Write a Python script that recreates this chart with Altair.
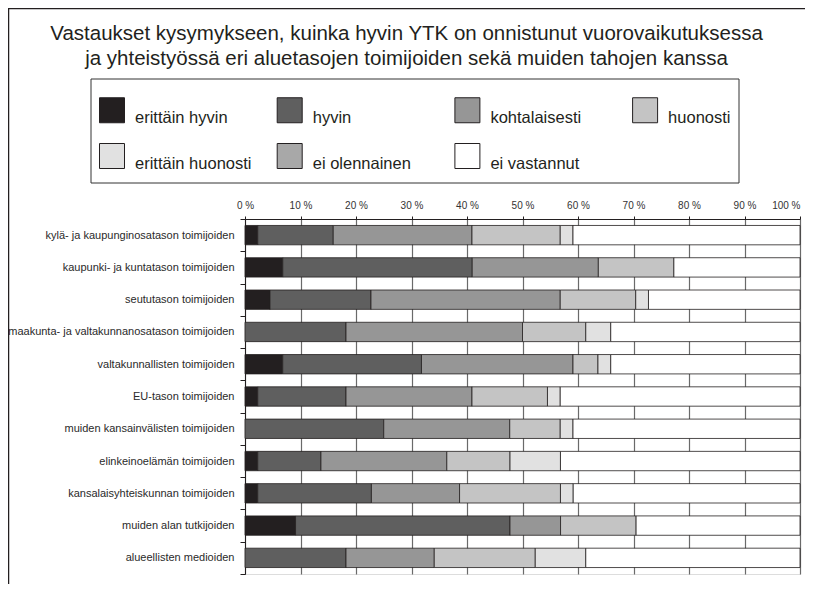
import altair as alt
import pandas as pd

title_lines = [
    "Vastaukset kysymykseen, kuinka hyvin YTK on onnistunut vuorovaikutuksessa",
    "ja yhteistyössä eri aluetasojen toimijoiden sekä muiden tahojen kanssa",
]

categories = [
    "kylä- ja kaupunginosatason toimijoiden",
    "kaupunki- ja kuntatason toimijoiden",
    "seututason toimijoiden",
    "maakunta- ja valtakunnanosatason toimijoiden",
    "valtakunnallisten toimijoiden",
    "EU-tason toimijoiden",
    "muiden kansainvälisten toimijoiden",
    "elinkeinoelämän toimijoiden",
    "kansalaisyhteiskunnan toimijoiden",
    "muiden alan tutkijoiden",
    "alueellisten medioiden",
]

series = [
    "erittäin hyvin",
    "hyvin",
    "kohtalaisesti",
    "huonosti",
    "erittäin huonosti",
    "ei olennainen",
    "ei vastannut",
]

# percentages per category, in the order of `series`
erittain_hyvin = [2.3, 6.8, 4.5, 0.0, 6.8, 2.3, 0.0, 2.3, 2.3, 9.1, 0.0]
hyvin = [13.6, 34.1, 18.2, 18.2, 25.0, 15.9, 25.0, 11.4, 20.5, 38.6, 18.2]
kohtalaisesti = [25.0, 22.7, 34.1, 31.8, 27.3, 22.7, 22.7, 22.7, 15.9, 9.1, 15.9]
huonosti = [15.9, 13.6, 13.6, 11.4, 4.5, 13.6, 9.1, 11.4, 18.2, 13.6, 18.2]
erittain_huonosti = [2.3, 0.0, 2.3, 4.5, 2.3, 2.3, 2.3, 9.1, 2.3, 0.0, 9.1]
ei_olennainen = [0.0] * 11
ei_vastannut = [40.9, 22.7, 27.3, 34.1, 34.1, 43.2, 40.9, 43.2, 40.9, 29.5, 38.6]

values = [erittain_hyvin, hyvin, kohtalaisesti, huonosti,
          erittain_huonosti, ei_olennainen, ei_vastannut]

colors = ["#231f20", "#5f5f5f", "#969696", "#c4c4c4", "#e1e1e1", "#a8a8a8", "#ffffff"]

x_ticks = [0, 0.1, 0.2, 0.3, 0.4, 0.5, 0.6, 0.7, 0.8, 0.9, 1.0]

rows = []
for si, (s, vals) in enumerate(zip(series, values)):
    for c, v in zip(categories, vals):
        if v > 0:
            rows.append({"kohde": c, "vastaus": s, "osuus": v, "jarj": si})
df = pd.DataFrame(rows)

FONT = "Liberation Sans"

bars = alt.Chart(df).mark_bar(
    stroke="#231f20", strokeWidth=0.8, height=alt.RelativeBandSize(0.6)
).encode(
    y=alt.Y("kohde:N", sort=categories, title=None,
            scale=alt.Scale(paddingInner=0, paddingOuter=0),
            axis=alt.Axis(tickBand="extent", tickSize=5, tickColor="#231f20",
                          domainColor="#231f20", labelFontSize=11,
                          labelColor="#2a2a2a", labelPadding=6, labelLimit=300,
                          labelFont=FONT)),
    x=alt.X("osuus:Q", stack="normalize", title=None,
            scale=alt.Scale(domain=[0, 1], nice=False, clamp=True),
            axis=alt.Axis(orient="top", values=x_ticks,
                          labelExpr="format(datum.value*100, 'd') + ' %'",
                          labelFontSize=10, labelColor="#333333", labelFont=FONT,
                          labelPadding=6, tickSize=3, tickColor="#231f20",
                          domainColor="#231f20", grid=True, gridColor="#6a6a6a",
                          gridWidth=1.2, labelFlush=False,
                          labelAlign={"condition": {"test": "datum.value >= 1",
                                                    "value": "right"},
                                      "value": "center"})),
    color=alt.Color("vastaus:N", scale=alt.Scale(domain=series, range=colors),
                    legend=alt.Legend(
                        title=None, orient="none", legendX=-146, legendY=-122,
                        direction="horizontal",
                        columns=4, gridAlign="all", columnPadding=22.7,
                        rowPadding=14, symbolType="square", symbolSize=625,
                        symbolStrokeColor="#231f20", symbolStrokeWidth=1,
                        labelFontSize=16.5, labelFont=FONT, labelColor="#231f20",
                        labelBaseline="top", labelOffset=10, padding=0,
                        labelLimit=300)),
    order=alt.Order("jarj:Q", sort="ascending"),
)

legend_box = alt.Chart(pd.DataFrame({"a": [0]})).mark_rect(
    fill=None, stroke="#333333", strokeWidth=1
).encode(x=alt.value(-154), x2=alt.value(494), y=alt.value(-140), y2=alt.value(-36))

frame = alt.Chart(pd.DataFrame({"a": [0]})).mark_rect(
    fill=None, stroke="#231f20", strokeWidth=1.5
).encode(x=alt.value(-236.5), x2=alt.value(700), y=alt.value(-210.5), y2=alt.value(500))

chart = alt.layer(frame, legend_box, bars).properties(
    width=555, height=355,
    title=alt.Title(title_lines, fontSize=20.5, fontWeight="normal", font=FONT,
                    color="#231f20", anchor="middle", frame="group", dx=-116,
                    baseline="bottom", offset=-82, lineHeight=25),
    autosize=alt.AutoSizeParams(type="none"),
    padding={"left": 237, "top": 211, "right": 5, "bottom": 10},
).configure_view(stroke="#231f20", strokeWidth=1).configure(background="white")

chart.save("out.html", embed_options={"renderer": "svg", "actions": False})
